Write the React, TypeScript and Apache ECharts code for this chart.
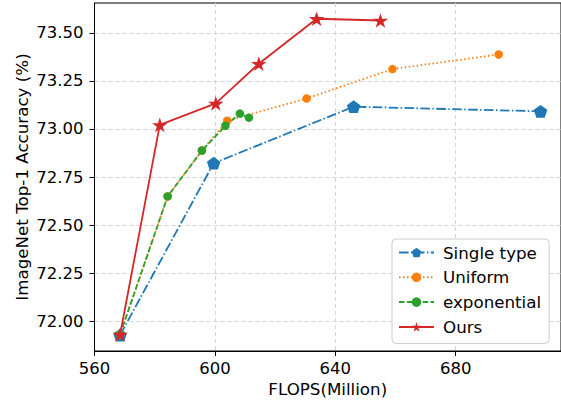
import React, { useEffect, useRef } from "react";
import * as echarts from "echarts";

const xTicks = [560, 600, 640, 680];
const yTicks = [72.0, 72.25, 72.5, 72.75, 73.0, 73.25, 73.5];

const seriesNames = ["Single type", "Uniform", "exponential", "Ours"];

const singleX = [568.5, 599.6, 646.1, 708.2];
const singleY = [71.927, 72.822, 73.116, 73.092];

const uniformX = [568.5, 584.3, 595.7, 604.1, 630.5, 659.0, 694.3];
const uniformY = [71.93, 72.649, 72.888, 73.043, 73.159, 73.312, 73.388];

const expX = [568.5, 584.3, 595.7, 603.5, 608.3, 611.3];
const expY = [71.93, 72.649, 72.888, 73.017, 73.08, 73.059];

const oursX = [568.5, 581.7, 600.3, 614.6, 633.8, 655.0];
const oursY = [71.93, 73.021, 73.133, 73.34, 73.574, 73.565];

const pentagon =
  "path://M0,-1 L0.951,-0.309 L0.588,0.809 L-0.588,0.809 L-0.951,-0.309 Z";
const star =
  "path://M0,-1 L0.2245,-0.309 L0.951,-0.309 L0.3633,0.118 L0.588,0.809 L0,0.382 L-0.588,0.809 L-0.3633,0.118 L-0.951,-0.309 L-0.2245,-0.309 Z";

const FONT = "DejaVu Sans";

function zip(xs: number[], ys: number[]) {
  return xs.map((x, i) => [x, ys[i]]);
}

export default function App() {
  const ref = useRef<HTMLDivElement>(null);
  useEffect(() => {
    if (!ref.current) return;
    const chart = echarts.init(ref.current, undefined, { renderer: "svg" });
    const gridLine = {
      show: true,
      lineStyle: { color: "#d4d4d4", type: [4, 3], width: 1 },
    };
    chart.setOption({
      animation: false,
      backgroundColor: "#ffffff",
      grid: {
        left: 94.5,
        right: -1,
        top: 3,
        bottom: 50,
        show: true,
        borderColor: "#000",
        borderWidth: 1,
        backgroundColor: "transparent",
      },
      xAxis: {
        type: "value",
        min: 560,
        max: 715,
        name: "FLOPS(Million)",
        nameLocation: "middle",
        nameGap: 29,
        nameMoveOverlap: false,
        nameTextStyle: { fontFamily: FONT, fontSize: 16.7, color: "#000" },
        axisLine: { show: true, lineStyle: { color: "#000", width: 1 } },
        axisTick: {
          show: true,
          length: 5,
          customValues: xTicks,
          lineStyle: { color: "#000", width: 1 },
        },
        axisLabel: {
          customValues: xTicks,
          margin: 9,
          fontFamily: FONT,
          fontSize: 16.5,
          color: "#000",
          formatter: (v: number) => String(Math.round(v)),
        },
        splitLine: gridLine,
      },
      yAxis: {
        type: "value",
        min: 71.844,
        max: 73.656,
        name: "ImageNet Top-1 Accuracy (%)",
        nameLocation: "middle",
        nameGap: 64,
        nameMoveOverlap: false,
        nameTextStyle: { fontFamily: FONT, fontSize: 16.7, color: "#000" },
        axisLine: { show: true, lineStyle: { color: "#000", width: 1 } },
        axisTick: {
          show: true,
          length: 5,
          customValues: yTicks,
          lineStyle: { color: "#000", width: 1 },
        },
        axisLabel: {
          customValues: yTicks,
          margin: 11,
          fontFamily: FONT,
          fontSize: 16.5,
          color: "#000",
          formatter: (v: number) => v.toFixed(2),
        },
        splitLine: gridLine,
      },
      legend: {
        orient: "vertical",
        left: 392,
        top: 239,
        padding: [5, 8, 8, 6],
        itemGap: 7.8,
        itemWidth: 35,
        itemHeight: 12,
        backgroundColor: "rgba(255,255,255,0.85)",
        borderColor: "#cccccc",
        borderWidth: 1,
        borderRadius: 4,
        textStyle: { fontFamily: FONT, fontSize: 16.7, color: "#000", padding: [0, 0, 0, 4] },
        data: seriesNames,
      },
      series: [
        {
          name: seriesNames[0],
          type: "line",
          data: zip(singleX, singleY),
          symbol: pentagon,
          symbolSize: [13.5, 12.8],
          color: "#1f77b4",
          itemStyle: { color: "#1f77b4" },
          lineStyle: { color: "#1f77b4", width: 1.8, type: [9.6, 2.4, 1.5, 2.4] },
        },
        {
          name: seriesNames[1],
          type: "line",
          data: zip(uniformX, uniformY),
          symbol: "circle",
          symbolSize: 8.5,
          color: "#ff7f0e",
          itemStyle: { color: "#ff7f0e" },
          lineStyle: { color: "#ff7f0e", width: 1.8, type: [1.5, 2.5] },
        },
        {
          name: seriesNames[2],
          type: "line",
          data: zip(expX, expY),
          symbol: "circle",
          symbolSize: 8.5,
          color: "#2ca02c",
          itemStyle: { color: "#2ca02c" },
          lineStyle: { color: "#2ca02c", width: 1.8, type: [5.5, 2.4] },
        },
        {
          name: seriesNames[3],
          type: "line",
          data: zip(oursX, oursY),
          symbol: star,
          symbolSize: [15.5, 14.7],
          color: "#d62728",
          itemStyle: { color: "#d62728" },
          lineStyle: { color: "#d62728", width: 1.8, type: "solid" },
        },
      ],
    });
    return () => chart.dispose();
  }, []);
  return (
    <div
      ref={ref}
      style={{ position: "fixed", left: 0, top: 0, width: 561, height: 402, background: "#fff" }}
    />
  );
}
